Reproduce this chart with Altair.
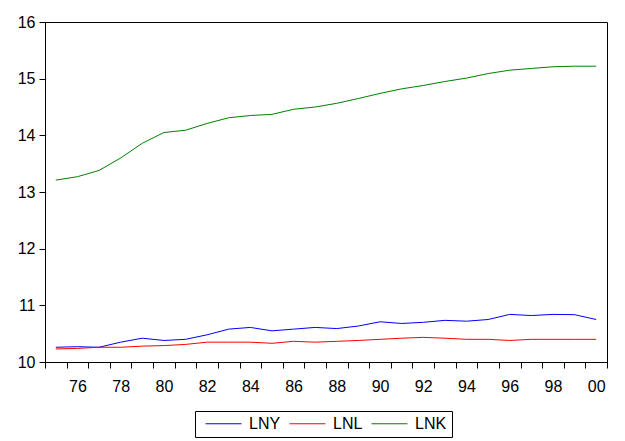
import altair as alt
import pandas as pd

years = list(range(1975, 2001))
lny = [10.26, 10.27, 10.26, 10.35, 10.42, 10.38, 10.40, 10.48, 10.58, 10.61,
       10.55, 10.58, 10.61, 10.59, 10.635, 10.71, 10.68, 10.70, 10.735, 10.72,
       10.75, 10.84, 10.82, 10.84, 10.835, 10.75]
lnl = [10.23, 10.24, 10.26, 10.26, 10.28, 10.29, 10.31, 10.35, 10.35, 10.35,
       10.33, 10.365, 10.35, 10.365, 10.38, 10.40, 10.42, 10.435, 10.42, 10.40,
       10.40, 10.38, 10.40, 10.40, 10.40, 10.40]
lnk = [13.21, 13.27, 13.38, 13.60, 13.86, 14.05, 14.09, 14.21, 14.31, 14.35,
       14.37, 14.46, 14.50, 14.565, 14.65, 14.74, 14.82, 14.88, 14.95, 15.01,
       15.09, 15.15, 15.18, 15.21, 15.22, 15.22]
series = ["LNY", "LNL", "LNK"]
colors = ["#0000FF", "#FF0000", "#008000"]
y_ticks = [10, 11, 12, 13, 14, 15, 16]

rows = []
for name, vals in zip(series, [lny, lnl, lnk]):
    for yr, v in zip(years, vals):
        rows.append({"year": yr, "value": v, "series": name})
df = pd.DataFrame(rows)

x_tick_values = [1974.5 + i for i in range(27)]
FONT = "Liberation Sans"

chart = alt.Chart(df).mark_line(strokeWidth=1).encode(
    x=alt.X("year:Q",
            scale=alt.Scale(domain=[1974.5, 2000.5], nice=False, zero=False),
            axis=alt.Axis(values=x_tick_values, title=None, grid=False,
                          tickSize=6, labelPadding=10, labelOffset=10.8,
                          labelOverlap=False, labelFlush=False,
                          labelExpr="(datum.value + 0.5) % 2 == 0 ? substring(toString(datum.value + 0.5), 2) : ''")),
    y=alt.Y("value:Q",
            scale=alt.Scale(domain=[10, 16], nice=False, zero=False),
            axis=alt.Axis(values=y_ticks, title=None, grid=False,
                          tickSize=6, labelPadding=4)),
    color=alt.Color("series:N",
                    sort=series,
                    scale=alt.Scale(domain=series, range=colors),
                    legend=alt.Legend(title=None, orient="none", direction="horizontal",
                                      legendX=150, legendY=389,
                                      symbolType="stroke", symbolSize=1296,
                                      symbolStrokeWidth=1, clipHeight=15,
                                      symbolOffset=5,
                                      labelOffset=7, columnPadding=3,
                                      padding=5, strokeColor="black",
                                      labelFontSize=16, labelFont=FONT,
                                      labelColor="black")),
).properties(
    width=562, height=340,
    autosize=alt.AutoSizeParams(type="none"),
    padding={"left": 37, "top": 14, "right": 8, "bottom": 76},
).configure_view(
    stroke="black", strokeWidth=1
).configure_axis(
    domainColor="black", tickColor="black", labelColor="black",
    labelFont=FONT, labelFontSize=16, domainWidth=1, tickWidth=1
)

chart.save("out.html", embed_options={"renderer": "svg", "actions": False})
